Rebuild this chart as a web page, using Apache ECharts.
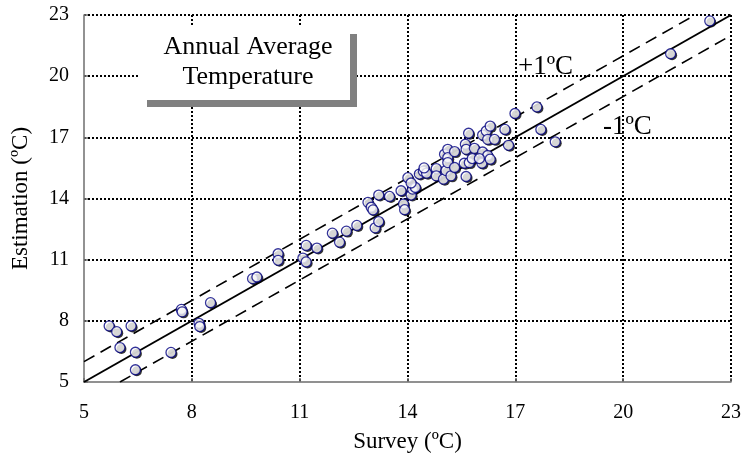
<!DOCTYPE html>
<html>
<head>
<meta charset="utf-8">
<script src="https://cdn.jsdelivr.net/npm/echarts@6/dist/echarts.min.js"></script>
<style>html,body{margin:0;padding:0;background:#fff}#c{width:744px;height:458px}</style>
</head>
<body>
<div id="c"></div>
<script>
// Survey (x) and Estimation (y) values, °C
const survey = [5.70,5.91,6.31,6.00,6.43,6.43,7.42,7.71,7.73,8.20,8.22,8.52,9.69,9.81,10.40,10.40,11.09,11.18,11.18,11.48,
  11.91,12.11,12.30,12.59,12.90,12.99,13.04,13.20,13.10,13.20,13.50,13.82,13.89,13.92,14.10,14.14,14.22,14.01,14.10,14.33,
  14.44,14.53,14.80,14.80,15.00,15.07,15.21,15.03,15.12,15.12,15.12,15.31,15.31,15.58,15.72,15.63,15.61,15.63,15.70,15.86,
  15.80,16.07,16.09,16.23,16.30,16.09,16.19,16.30,16.23,16.42,16.71,16.81,16.99,17.60,17.71,18.11,21.32,22.41,16.00,14.46];
const estimation = [7.75,7.47,7.75,6.69,6.46,5.60,6.45,8.56,8.44,7.88,7.72,8.89,10.07,10.15,11.29,10.97,11.08,10.89,11.70,11.57,
  12.30,11.86,12.40,12.68,13.81,13.57,13.44,14.17,12.56,12.87,14.10,14.38,13.73,13.45,14.17,14.46,14.54,15.02,14.76,15.20,
  15.34,15.24,15.47,15.11,14.95,15.37,15.11,16.17,16.41,16.00,15.76,16.30,15.52,15.73,15.76,15.08,16.66,16.41,17.20,16.46,
  15.96,15.73,16.28,16.11,15.93,17.11,17.31,17.55,16.90,16.90,17.39,16.61,18.17,18.49,17.39,16.78,21.10,22.71,15.96,15.50];
const axisMin = 5, axisMax = 23, axisStep = 3;
const tickLabels = ['5','8','11','14','17','20','23'];
const xTitle = 'Survey (ºC)';
const yTitle = 'Estimation (ºC)';
const boxText = ['Annual Average', 'Temperature'];
const plusLabel = '+1ºC', minusLabel = '-1ºC';
const offset = 1;

const points = survey.map((x, i) => [x, estimation[i]]);
const font = 'Liberation Serif';

const chart = echarts.init(document.getElementById('c'), null, {renderer: 'canvas'});
const axisCommon = {
  type: 'value', min: axisMin, max: axisMax, interval: axisStep,
  axisLine: {show: true, lineStyle: {color: '#6e6e6e', width: 1.5}},
  axisTick: {show: true, inside: true, length: 4, lineStyle: {color: '#6e6e6e', width: 1.5}},
  splitLine: {show: true, showMinLine: false, lineStyle: {color: '#000', width: 2, type: [2, 2]}},
  nameTextStyle: {fontFamily: font, fontSize: 23, color: '#000'},
  axisLabel: {fontFamily: font, fontSize: 20, color: '#000',
    formatter: v => tickLabels[Math.round((v - axisMin) / axisStep)] || ''}
};
chart.setOption({
  animation: false,
  grid: {left: 84, right: 12, top: 15, bottom: 74},
  xAxis: Object.assign({}, axisCommon, {name: xTitle, nameLocation: 'middle', nameGap: 48,
    axisLabel: Object.assign({}, axisCommon.axisLabel, {margin: 21})}),
  yAxis: Object.assign({}, axisCommon, {name: yTitle, nameLocation: 'middle', nameGap: 52,
    axisLabel: Object.assign({}, axisCommon.axisLabel, {margin: 15})}),
  series: [
    {type: 'line', data: [[axisMin, axisMin], [axisMax, axisMax]], symbol: 'none',
      lineStyle: {color: '#000', width: 2}, z: 2},
    {type: 'line', data: [[axisMin, axisMin + offset], [axisMax - offset, axisMax]], symbol: 'none',
      lineStyle: {color: '#000', width: 1.6, type: [12, 7]}, z: 2},
    {type: 'line', data: [[axisMin + offset, axisMin], [axisMax, axisMax - offset]], symbol: 'none',
      lineStyle: {color: '#000', width: 1.6, type: [12, 7]}, z: 2},
    {type: 'scatter', data: points, symbol: 'circle', symbolSize: 10, symbolOffset: [1.5, 1.5], z: 3,
      silent: true, itemStyle: {color: '#000', borderWidth: 0}},
    {type: 'scatter', data: points, symbol: 'circle', symbolSize: 10, z: 4,
      itemStyle: {color: '#fff', borderColor: '#000080', borderWidth: 1.3}}
  ],
  graphic: [
    {type: 'rect', left: 147, top: 34, shape: {width: 210, height: 73}, style: {fill: '#808080'}, z: 10},
    {type: 'rect', left: 140, top: 27, shape: {width: 210, height: 73}, style: {fill: '#fff'}, z: 11},
    {type: 'text', x: 248, y: 47, z: 12, style: {text: boxText[0], font: '26px "Liberation Serif"', fill: '#000', align: 'center', verticalAlign: 'middle'}},
    {type: 'text', x: 248, y: 77, z: 12, style: {text: boxText[1], font: '26px "Liberation Serif"', fill: '#000', align: 'center', verticalAlign: 'middle'}},
    {type: 'text', x: 518, y: 67, z: 12, style: {text: plusLabel, font: '27px "Liberation Serif"', fill: '#000', align: 'left', verticalAlign: 'middle'}},
    {type: 'text', x: 603, y: 127, z: 12, style: {text: minusLabel, font: '27px "Liberation Serif"', fill: '#000', align: 'left', verticalAlign: 'middle'}}
  ]
});
</script>
</body>
</html>
